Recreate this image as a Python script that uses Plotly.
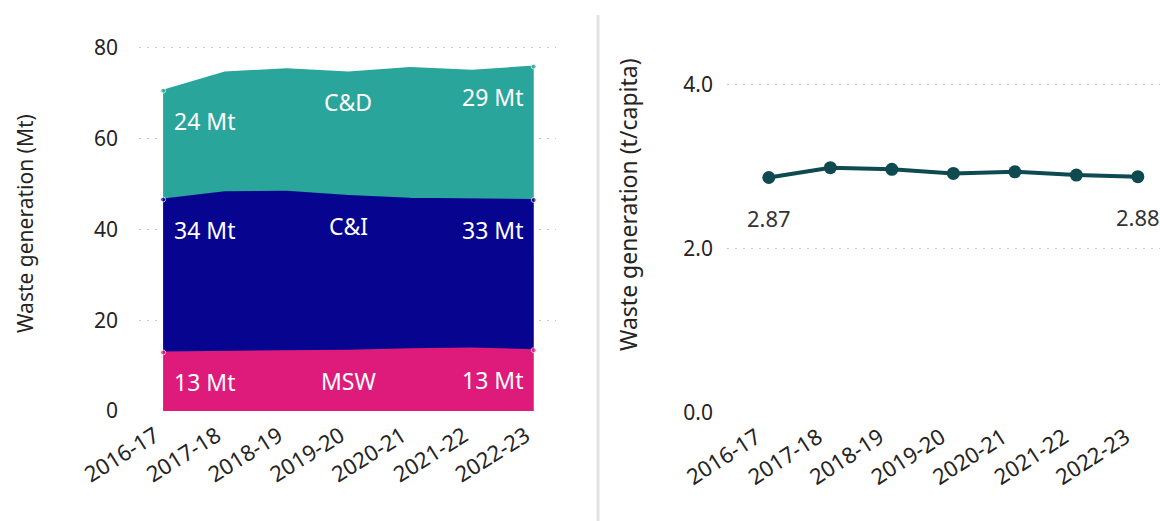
import plotly.graph_objects as go

# Financial years on the category axis
years = ["2016-17", "2017-18", "2018-19", "2019-20", "2020-21", "2021-22", "2022-23"]

# Waste generation by stream (Mt)
msw = [12.9, 13.0, 13.1, 13.3, 13.6, 13.8, 13.4]
c_and_i = [33.7, 35.2, 35.2, 34.1, 33.2, 32.8, 33.1]
c_and_d = [24.0, 26.4, 27.0, 27.2, 28.8, 28.4, 29.4]

# Waste generation per person (t/capita)
per_capita = [2.87, 2.99, 2.97, 2.92, 2.94, 2.90, 2.88]

FONT = "Segoe UI, Noto Sans, Open Sans, sans-serif"
TEXT = "#252423"
GRID = "#c4c4c4"

streams = [
    ("MSW", msw, "#de1a7b"),
    ("C&I", c_and_i, "#07058f"),
    ("C&D", c_and_d, "#2aa59b"),
]

idx = list(range(len(years)))
n = len(years)
fig = go.Figure()

end_markers = [5] + [0] * (n - 2) + [5]
for name, vals, col in streams:
    fig.add_trace(go.Scatter(
        x=idx, y=vals, name=name, stackgroup="waste", mode="lines+markers",
        line=dict(color=col, width=2), fillcolor=col,
        marker=dict(size=end_markers, color=col),
        xaxis="x", yaxis="y", hoverinfo="skip",
    ))

fig.add_trace(go.Scatter(
    x=idx, y=per_capita, mode="lines+markers",
    line=dict(color="#0e4a50", width=4),
    marker=dict(size=13, color="#0e4a50"),
    xaxis="x2", yaxis="y2", hoverinfo="skip",
))

W, H = 1160, 521


def px_x(p):
    return p / W


def px_y(p):
    return (H - p) / H


annotations = []
# Band labels: start value, stream name in the middle, end value
tops = [0.0] * n
mid = n // 2
for name, vals, col in streams:
    tops = [t + v for t, v in zip(tops, vals)]
    for xi, txt, anchor, shift in [
        (0, f"{round(vals[0])} Mt", "left", 9),
        (mid, name, "center", 0),
        (n - 1, f"{round(vals[-1])} Mt", "right", -9),
    ]:
        annotations.append(dict(
            x=xi, y=tops[xi], xref="x", yref="y", text=txt, showarrow=False,
            xanchor=anchor, yanchor="middle", xshift=shift, yshift=-30,
            font=dict(family=FONT, size=23, color="white"),
        ))

for xi in (0, n - 1):
    annotations.append(dict(
        x=xi, y=per_capita[xi], xref="x2", yref="y2", text=f"{per_capita[xi]:.2f}",
        showarrow=False, xanchor="center", yanchor="middle", yshift=-40,
        font=dict(family=FONT, size=22, color="#333333"),
    ))

# Axis titles
annotations.append(dict(
    x=px_x(25), y=px_y(224), xref="paper", yref="paper", text="Waste generation (Mt)",
    showarrow=False, textangle=-90, xanchor="center", yanchor="middle",
    font=dict(family=FONT, size=21, color=TEXT),
))
annotations.append(dict(
    x=px_x(628), y=px_y(205), xref="paper", yref="paper", text="Waste generation (t/capita)",
    showarrow=False, textangle=-90, xanchor="center", yanchor="middle",
    font=dict(family=FONT, size=23, color=TEXT),
))

xcommon = dict(
    tickmode="array", ticktext=years,
    showgrid=False, zeroline=False, showline=False,
    tickfont=dict(family=FONT, size=22, color=TEXT), ticks="",
    ticklabelstandoff=7, automargin=False,
)
ycommon = dict(
    showgrid=True, gridcolor=GRID, griddash="2px,6px", gridwidth=1,
    zeroline=False, showline=False, ticks="", automargin=False,
    tickfont=dict(family=FONT, size=21, color=TEXT),
)

fig.update_layout(
    width=W, height=H,
    margin=dict(l=0, r=0, t=0, b=0),
    paper_bgcolor="white", plot_bgcolor="white",
    showlegend=False,
    xaxis=dict(domain=[px_x(139), px_x(556)], range=[-0.39, 6.36], anchor="y",
               tickvals=[i - 0.13 for i in idx], tickangle=-32, **xcommon),
    yaxis=dict(domain=[px_y(411), px_y(45.7)], range=[0, 80.5], tickvals=[0, 20, 40, 60, 80],
               anchor="x", ticklabelstandoff=20, **ycommon),
    xaxis2=dict(domain=[px_x(727), 1.0], range=[-0.68, 6.36], anchor="y2",
                tickvals=[i - 0.2 for i in idx], tickangle=-33, **xcommon),
    yaxis2=dict(domain=[px_y(412.5), px_y(80.9)], range=[0, 4.05], tickvals=[0, 2, 4],
                tickformat=".1f", anchor="x2", ticklabelstandoff=13, **ycommon),
    annotations=annotations,
    shapes=[dict(type="line", xref="paper", yref="paper",
                 x0=px_x(598), x1=px_x(598), y0=0, y1=px_y(15),
                 line=dict(color="#e3e3e3", width=3))],
)

fig.write_html("out.html")
